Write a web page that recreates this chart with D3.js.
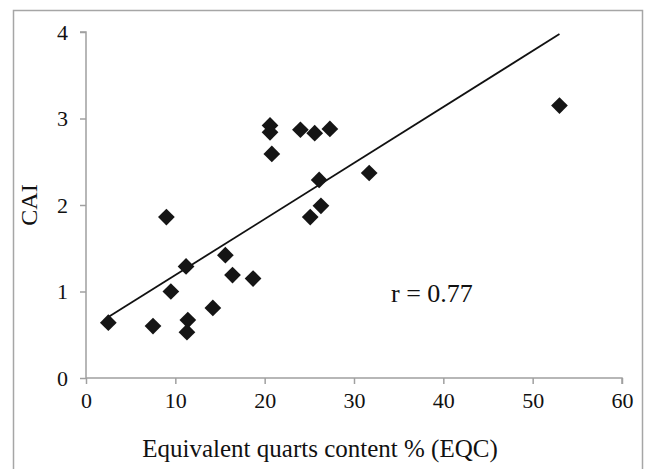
<!DOCTYPE html>
<html>
<head>
<meta charset="utf-8">
<script src="https://cdn.jsdelivr.net/npm/d3@7"></script>
<style>
  body { margin: 0; background: #fff; }
  svg { display: block; }
  svg text { font-family: "Liberation Serif", "DejaVu Serif", serif; }
</style>
</head>
<body>
<div id="chart"></div>
<script>
// data: EQC (%) vs CAI
let eqc = [2.5, 7.5, 9.0, 9.5, 11.2, 11.4, 11.3, 14.2, 15.6, 16.4, 18.7,
           20.6, 20.6, 20.8, 24.0, 25.6, 27.3, 26.1, 31.7, 26.3, 25.1, 53.0];
let cai = [0.64, 0.60, 1.86, 1.00, 1.29, 0.67, 0.53, 0.81, 1.42, 1.19, 1.15,
           2.92, 2.84, 2.59, 2.87, 2.83, 2.88, 2.29, 2.37, 1.99, 1.86, 3.15];
let xTicks = [0, 10, 20, 30, 40, 50, 60];
let yTicks = [0, 1, 2, 3, 4];
// linear trend line, fitted in the original
let trend = { slope: 0.0648, intercept: 0.542 };
let rLabel = "r = 0.77";

let points = eqc.map((v, i) => ({ x: v, y: cai[i] }));

let width = 645, height = 469;
let margin = { top: 32, right: 23, bottom: 91, left: 86 };

let svg = d3.select("#chart")
    .append("svg")
    .attr("width", width)
    .attr("height", height);

// outer frame (bottom edge is cut off in the original)
svg.append("rect")
    .attr("x", 13.5).attr("y", 10.5)
    .attr("width", 629).attr("height", 470)
    .attr("fill", "none")
    .attr("stroke", "#a6a6a6")
    .attr("stroke-width", 1.5);

let x = d3.scaleLinear().domain([0, 60]).range([margin.left, width - margin.right]);
let y = d3.scaleLinear().domain([0, 4]).range([height - margin.bottom, margin.top]);

// axes
let xAxis = svg.append("g")
    .attr("transform", "translate(0," + y(0) + ")")
    .call(d3.axisBottom(x).tickValues(xTicks).tickFormat(d3.format("d")).tickSize(6).tickPadding(8));
let yAxis = svg.append("g")
    .attr("transform", "translate(" + x(0) + ",0)")
    .call(d3.axisLeft(y).tickValues(yTicks).tickFormat(d3.format("d")).tickSize(6).tickPadding(12));

[xAxis, yAxis].forEach(function (g) {
    g.attr("font-family", null).attr("font-size", 22);
    g.selectAll("path, line").attr("stroke", "#a0a0a0").attr("stroke-width", 1.5);
    g.selectAll("text").attr("fill", "#111");
});
xAxis.select(".domain").attr("d", "M" + x(0) + ",0H" + x(60) + "V6");
yAxis.select(".domain").attr("d", "M-6," + y(4) + "H0V" + y(0));

// trend line from min to max of the data
let xMin = d3.min(eqc), xMax = d3.max(eqc);
svg.append("line")
    .attr("x1", x(xMin)).attr("y1", y(trend.intercept + trend.slope * xMin))
    .attr("x2", x(xMax)).attr("y2", y(trend.intercept + trend.slope * xMax))
    .attr("stroke", "#111")
    .attr("stroke-width", 1.8);

// diamond markers
svg.selectAll(".pt")
    .data(points)
    .enter()
    .append("path")
    .attr("class", "pt")
    .attr("d", d3.symbol().type(d3.symbolSquare).size(140))
    .attr("transform", function (d) { return "translate(" + x(d.x) + "," + y(d.y) + ") rotate(45)"; })
    .attr("fill", "#151515");

// labels
svg.append("text")
    .attr("x", 320)
    .attr("y", 457)
    .attr("text-anchor", "middle")
    .attr("font-size", 25)
    .attr("fill", "#111")
    .text("Equivalent quarts content % (EQC)");

svg.append("text")
    .attr("transform", "translate(37," + y(2) + ") rotate(-90)")
    .attr("text-anchor", "middle")
    .attr("font-size", 24)
    .attr("fill", "#111")
    .text("CAI");

svg.append("text")
    .attr("x", 391)
    .attr("y", 302)
    .attr("font-size", 26)
    .attr("fill", "#111")
    .text(rLabel);
</script>
</body>
</html>
